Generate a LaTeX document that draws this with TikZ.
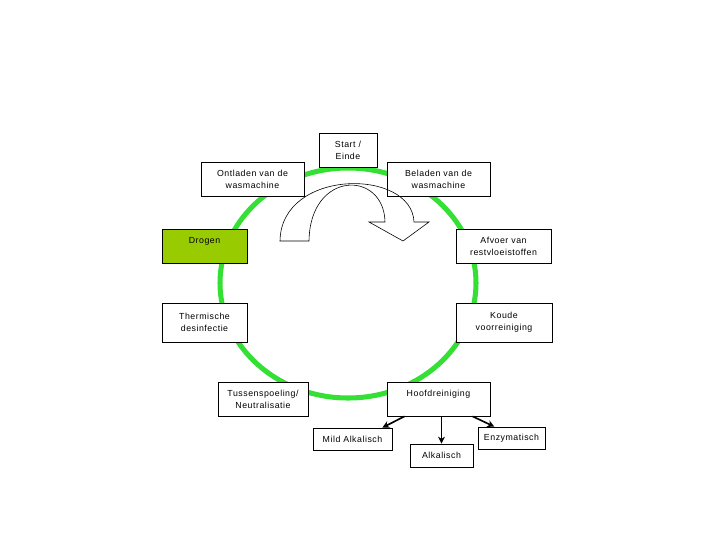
\documentclass[tikz,border=0pt]{standalone}
\usepackage{fontspec}
\setmainfont{Liberation Sans}[LetterSpace=6]
\usetikzlibrary{arrows.meta}
\definecolor{ringgreen}{HTML}{33E033}
\definecolor{dryfill}{HTML}{99CC00}

\begin{document}
\begin{tikzpicture}[x=0.03cm, y=-0.03cm,
    stage/.style={draw, line width=0.6pt, fill=white, align=center, font=\fontsize{7.5}{10.2}\selectfont, inner sep=3pt},
    boxsize/.style 2 args={minimum width=#1*0.3mm, minimum height=#2*0.3mm},
    toptext/.style={text height=9pt, text depth=14pt},
    loopring/.style={line width=4.3pt, ringgreen},
    arrow/.style={-{Stealth[length=6pt, width=6pt]}, line width=1.4pt}
]
\useasboundingbox (0,0) rectangle (720,540);

% Green ring of the wash cycle
\draw[loopring] (348,283) ellipse [x radius=128, y radius=115];

% Stages around the ring
\node[stage, boxsize={58}{34}] (start) at (348,150) {Start /\\Einde};
\node[stage, boxsize={103}{34}] (ontladen) at (252.5,179) {Ontladen van de\\wasmachine};
\node[stage, boxsize={103}{34}] (beladen) at (438.5,179) {Beladen van de\\wasmachine};
\node[stage, boxsize={85}{34}, toptext, fill=dryfill] (drogen) at (204.5,246) {Drogen};
\node[stage, boxsize={95}{34}] (afvoer) at (503.5,246) {Afvoer van\\restvloeistoffen};
\node[stage, boxsize={85}{39}] (thermisch) at (204.5,322.5) {Thermische\\desinfectie};
\node[stage, boxsize={96}{39}] (koude) at (504,322.5) {Koude\\voorreiniging};
\node[stage, boxsize={90}{34}] (tussen) at (263,399) {Tussenspoeling/\\Neutralisatie};
\node[stage, boxsize={103}{34}, toptext] (hoofd) at (438.5,399) {Hoofdreiniging};

% Kinds of main wash
\node[stage, boxsize={79}{22}] (mild) at (352.5,439) {Mild Alkalisch};
\node[stage, boxsize={63}{23}] (alkalisch) at (441.5,455.5) {Alkalisch};
\node[stage, boxsize={67}{22}] (enzym) at (511.5,438) {Enzymatisch};

% Turn arrow in the middle
\draw[line width=0.5pt] (280,241) .. controls (281,168) and (412,168) .. (414,222)
    -- (429,222) -- (403,241) -- (369,222) -- (385,222)
    .. controls (384,170) and (310,170) .. (309,241) -- cycle;

% Main wash branches
\draw[arrow] (hoofd.south) ++(-34,0) -- ([xshift=-3mm]mild.north east);
\draw[arrow] (alkalisch.north |- hoofd.south) -- (alkalisch.north);
\draw[arrow] (hoofd.south) ++(34,0) -- ([xshift=5mm]enzym.north west);

\end{tikzpicture}
\end{document}
